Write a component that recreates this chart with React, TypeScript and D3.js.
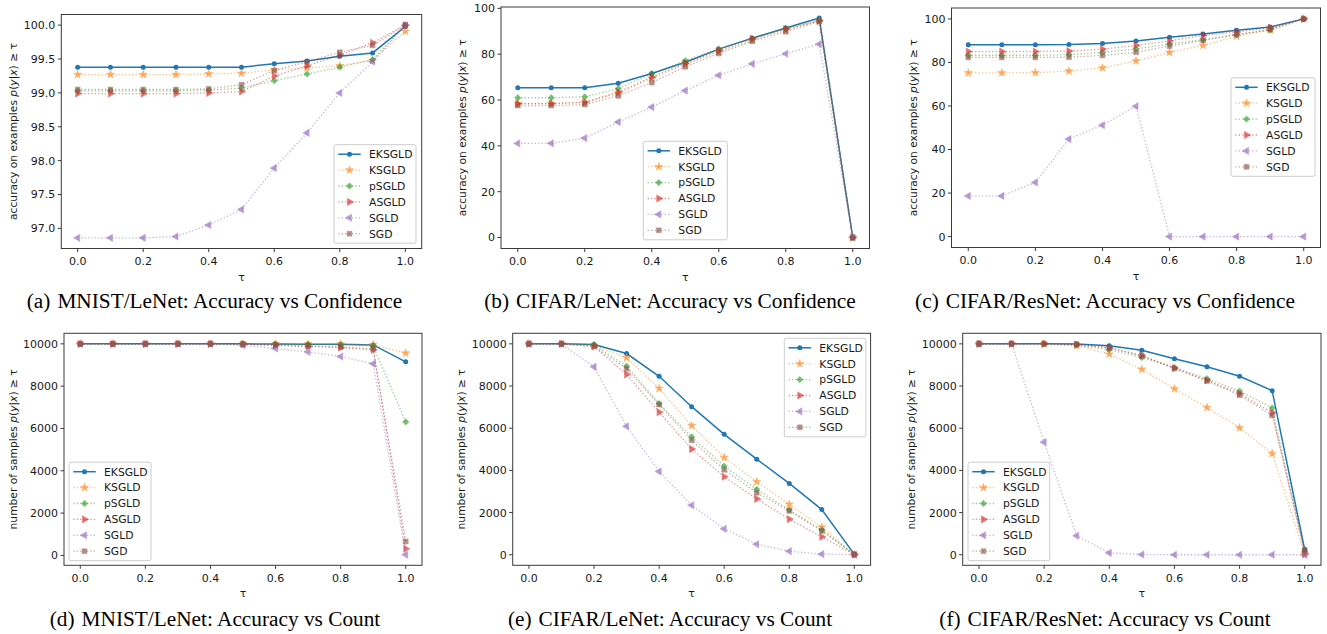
import React from 'react';
import * as d3 from 'd3';

const tau = [0, 0.1, 0.2, 0.3, 0.4, 0.5, 0.6, 0.7, 0.8, 0.9, 1.0];
const xTicks = [0, 0.2, 0.4, 0.6, 0.8, 1.0];
const methods = ['EKSGLD', 'KSGLD', 'pSGLD', 'ASGLD', 'SGLD', 'SGD'];
const colors = ['#1f77b4', '#ff7f0e', '#2ca02c', '#d62728', '#9467bd', '#8c564b'];
const markers = ['circle', 'star', 'diamond', 'right', 'left', 'square'];

// rows follow the order of `methods`
const accMnistLenet = [
  [99.38, 99.38, 99.38, 99.38, 99.38, 99.38, 99.43, 99.47, 99.54, 99.59, 99.98],
  [99.27, 99.27, 99.27, 99.27, 99.28, 99.29, 99.34, 99.37, 99.40, 99.48, 99.91],
  [99.03, 99.03, 99.03, 99.03, 99.04, 99.07, 99.18, 99.28, 99.38, 99.49, 100.0],
  [98.99, 98.99, 98.99, 98.99, 99.00, 99.02, 99.25, 99.40, 99.56, 99.74, 100.0],
  [96.86, 96.86, 96.86, 96.88, 97.05, 97.28, 97.89, 98.41, 99.00, 99.46, 100.0],
  [99.05, 99.05, 99.05, 99.05, 99.06, 99.12, 99.33, 99.46, 99.60, 99.70, 100.0],
];
const accCifarLenet = [
  [65.3, 65.3, 65.4, 67.3, 71.6, 76.5, 82.2, 87.0, 91.4, 95.8, 0],
  [58.5, 58.5, 59.0, 63.0, 69.5, 75.5, 81.0, 86.0, 90.5, 94.5, 0],
  [61.0, 61.0, 61.4, 65.0, 71.5, 77.2, 82.3, 86.8, 91.2, 94.8, 0],
  [58.4, 58.4, 59.0, 63.5, 70.0, 76.0, 81.6, 86.8, 91.0, 94.5, 0],
  [41.1, 41.1, 43.4, 50.4, 56.9, 64.1, 70.8, 75.8, 80.2, 84.4, 0],
  [57.6, 57.6, 58.0, 61.8, 67.6, 74.5, 80.3, 85.7, 89.8, 94.3, 0],
];
const accCifarResnet = [
  [88.1, 88.1, 88.1, 88.2, 88.7, 89.8, 91.6, 93.1, 94.8, 96.3, 100],
  [75.2, 75.2, 75.3, 76.0, 77.5, 80.7, 84.6, 87.8, 92.0, 94.9, 100],
  [83.3, 83.3, 83.3, 83.6, 84.6, 86.2, 88.5, 90.4, 92.8, 94.9, 100],
  [85.0, 85.0, 85.0, 85.2, 86.1, 87.8, 89.9, 92.4, 94.0, 96.0, 100],
  [18.7, 18.7, 24.9, 44.8, 51.2, 59.9, 0, 0, 0, 0, 0],
  [82.3, 82.3, 82.3, 82.4, 83.2, 84.7, 87.5, 90.1, 92.8, 95.1, 100],
];
const countMnistLenet = [
  [10000, 10000, 10000, 10000, 10000, 10000, 9990, 9985, 9975, 9950, 9150],
  [10000, 10000, 10000, 10000, 10000, 10000, 9995, 9990, 9985, 9960, 9560],
  [10000, 10000, 10000, 10000, 10000, 9995, 9985, 9970, 9950, 9900, 6310],
  [9995, 9995, 9995, 9995, 9995, 9985, 9930, 9880, 9820, 9720, 310],
  [10000, 10000, 10000, 10000, 10000, 9930, 9780, 9620, 9400, 9060, 30],
  [10000, 10000, 10000, 10000, 10000, 9990, 9940, 9900, 9850, 9760, 660],
];
const countCifarLenet = [
  [10000, 10000, 9970, 9540, 8460, 7020, 5710, 4530, 3380, 2140, 20],
  [10000, 10000, 9920, 9340, 7890, 6120, 4610, 3460, 2390, 1310, 10],
  [10000, 10000, 9960, 8940, 7170, 5590, 4200, 3100, 2130, 1170, 10],
  [10000, 10000, 9870, 8550, 6760, 5010, 3700, 2650, 1690, 850, 5],
  [10000, 9990, 8910, 6090, 3950, 2350, 1230, 500, 170, 30, 0],
  [10000, 10000, 9880, 8820, 7120, 5430, 4030, 2940, 2080, 1130, 20],
];
const countCifarResnet = [
  [10000, 10000, 10000, 9990, 9910, 9700, 9290, 8910, 8460, 7780, 240],
  [10000, 10000, 10000, 9920, 9510, 8790, 7870, 6980, 6020, 4800, 30],
  [10000, 10000, 10000, 9930, 9720, 9350, 8880, 8350, 7760, 6960, 150],
  [10000, 10000, 10000, 9970, 9810, 9450, 8850, 8270, 7640, 6740, 30],
  [10000, 10000, 5340, 900, 90, 10, 0, 0, 0, 0, 0],
  [10000, 10000, 10000, 9980, 9810, 9430, 8830, 8240, 7570, 6610, 240],
];

const yTicksMnistAcc = [97.0, 97.5, 98.0, 98.5, 99.0, 99.5, 100.0];
const yTicksAcc = [0, 20, 40, 60, 80, 100];
const yTicksCount = [0, 2000, 4000, 6000, 8000, 10000];

const accLabel = 'accuracy on examples ';
const countLabel = 'number of samples ';

const panels = [
  { data: accMnistLenet, ticks: yTicksMnistAcc, fmt: '.1f', label: accLabel,
    frame: { l: 61.3, r: 421.7, t: 14.5, b: 248.5 }, labelX: 16.5, capY: 308,
    legend: { x: 334, y: 144.7, w: 82 }, capX: 214.5,
    caption: ['(a)', 'MNIST/LeNet: Accuracy vs Confidence'] },
  { data: accCifarLenet, ticks: yTicksAcc, fmt: 'd', label: accLabel,
    frame: { l: 501, r: 869.5, t: 7, b: 248.5 }, labelX: 466, capY: 308,
    legend: { x: 643.3, y: 141.3, w: 84 }, capX: 670,
    caption: ['(b)', 'CIFAR/LeNet: Accuracy vs Confidence'] },
  { data: accCifarResnet, ticks: yTicksAcc, fmt: 'd', label: accLabel,
    frame: { l: 951.5, r: 1320.5, t: 8, b: 247.5 }, labelX: 916.5, capY: 308,
    legend: { x: 1231, y: 77.8, w: 84 }, capX: 1105,
    caption: ['(c)', 'CIFAR/ResNet: Accuracy vs Confidence'] },
  { data: countMnistLenet, ticks: yTicksCount, fmt: 'd', label: countLabel,
    frame: { l: 64, r: 422, t: 333.3, b: 565.3 }, labelX: 16.5, capY: 626,
    legend: { x: 69, y: 462.2, w: 82 }, capX: 215,
    caption: ['(d)', 'MNIST/LeNet: Accuracy vs Count'] },
  { data: countCifarLenet, ticks: yTicksCount, fmt: 'd', label: countLabel,
    frame: { l: 512.7, r: 870.6, t: 333.3, b: 565.3 }, labelX: 465, capY: 626,
    legend: { x: 784.3, y: 338.3, w: 81.5 }, capX: 670,
    caption: ['(e)', 'CIFAR/LeNet: Accuracy vs Count'] },
  { data: countCifarResnet, ticks: yTicksCount, fmt: 'd', label: countLabel,
    frame: { l: 962.7, r: 1321, t: 333.3, b: 565.3 }, labelX: 915, capY: 626,
    legend: { x: 968, y: 462.2, w: 81.7 }, capX: 1105,
    caption: ['(f)', 'CIFAR/ResNet: Accuracy vs Count'] },
];

const symbolPath = (kind) => {
  if (kind === 'star') return d3.symbol(d3.symbolStar, 20)();
  if (kind === 'diamond') return d3.symbol(d3.symbolSquare, 20)();
  if (kind === 'square') return d3.symbol(d3.symbolSquare, 23)();
  return d3.symbol(d3.symbolTriangle, 22)();
};
const symbolRotate = { diamond: 45, right: 90, left: -90 };

const Marker = ({ kind, x, y, color, alpha }) => {
  if (kind === 'circle') return <circle cx={x} cy={y} r={2.5} fill={color} opacity={alpha} />;
  const rot = symbolRotate[kind] || 0;
  return (
    <path d={symbolPath(kind)} transform={`translate(${x},${y}) rotate(${rot})`}
      fill={color} stroke={color} strokeWidth={0.6} opacity={alpha} />
  );
};

const lineStyle = (i) => i === 0
  ? { strokeWidth: 1.5, dash: undefined, alpha: 1 }
  : { strokeWidth: 1.3, dash: '1.3,2.1', alpha: 0.5 };

const Legend = ({ x, y, w }) => {
  const rowH = 15.9;
  const h = 2 * 9.5 + 5 * rowH;
  return (
    <g>
      <rect x={x} y={y} width={w} height={h} rx={2} fill="#fff" fillOpacity={0.8} stroke="#ccc" />
      {methods.map((m, i) => {
        const cy = y + 9.5 + i * rowH;
        const st = lineStyle(i);
        return (
          <g key={m}>
            <line x1={x + 4.3} x2={x + 26.7} y1={cy} y2={cy} stroke={colors[i]}
              strokeWidth={st.strokeWidth} strokeDasharray={st.dash} opacity={st.alpha} />
            <Marker kind={markers[i]} x={x + 15.5} y={cy} color={colors[i]} alpha={i === 0 ? 1 : 0.65} />
            <text x={x + 35} y={cy} dy="0.36em" fontSize={10.8} fill="#1a1a1a">{m}</text>
          </g>
        );
      })}
    </g>
  );
};

const Panel = ({ p }) => {
  const { l, r, t, b } = p.frame;
  const x = d3.scaleLinear().domain([-0.05, 1.05]).range([l, r]);
  const [lo, hi] = d3.extent(p.data.flat());
  const pad = (hi - lo) * 0.05;
  const y = d3.scaleLinear().domain([lo - pad, hi + pad]).range([b, t]);
  const line = d3.line().x((_, i) => x(tau[i])).y((d) => y(d));
  const fmt = d3.format(p.fmt);
  const cy = (t + b) / 2;

  return (
    <g>
      {p.data.map((row, i) => {
        const st = lineStyle(i);
        return (
          <g key={methods[i]}>
            <path d={line(row)} fill="none" stroke={colors[i]} strokeWidth={st.strokeWidth}
              strokeDasharray={st.dash} opacity={st.alpha} />
            {row.map((v, j) => (
              <Marker key={j} kind={markers[i]} x={x(tau[j])} y={y(v)} color={colors[i]}
                alpha={i === 0 ? 1 : 0.65} />
            ))}
          </g>
        );
      })}
      <rect x={l} y={t} width={r - l} height={b - t} fill="none" stroke="#3a3a3a" strokeWidth={1} />
      {p.ticks.map((v) => (
        <g key={v}>
          <line x1={l - 3.5} x2={l} y1={y(v)} y2={y(v)} stroke="#3a3a3a" />
          <text x={l - 6} y={y(v)} dy="0.36em" textAnchor="end" fontSize={11} fill="#1a1a1a">{fmt(v)}</text>
        </g>
      ))}
      {xTicks.map((v) => (
        <g key={v}>
          <line x1={x(v)} x2={x(v)} y1={b} y2={b + 3.5} stroke="#3a3a3a" />
          <text x={x(v)} y={b + 16.5} textAnchor="middle" fontSize={11} fill="#1a1a1a">{v.toFixed(1)}</text>
        </g>
      ))}
      <text x={(l + r) / 2} y={b + 32} textAnchor="middle" fontSize={11} fill="#1a1a1a">τ</text>
      <text transform={`translate(${p.labelX},${cy}) rotate(-90)`} textAnchor="middle" fontSize={10.7} fill="#1a1a1a">
        {p.label}<tspan fontStyle="italic">p</tspan>(<tspan fontStyle="italic">y</tspan>|<tspan fontStyle="italic">x</tspan>) ≥ τ
      </text>
      <Legend {...p.legend} />
      <text x={p.capX} y={p.capY} textAnchor="middle" fontFamily="'Liberation Serif', 'Times New Roman', serif"
        fontSize={21.3} fill="#000">
        {p.caption[0]}<tspan dx={7}>{p.caption[1]}</tspan>
      </text>
    </g>
  );
};

const App = () => (
  <svg width={1327} height={634} style={{ position: 'absolute', left: 0, top: 0, background: '#fff' }}
    fontFamily="'DejaVu Sans', sans-serif">
    {panels.map((p) => <Panel key={p.caption[0]} p={p} />)}
  </svg>
);

export default App;
